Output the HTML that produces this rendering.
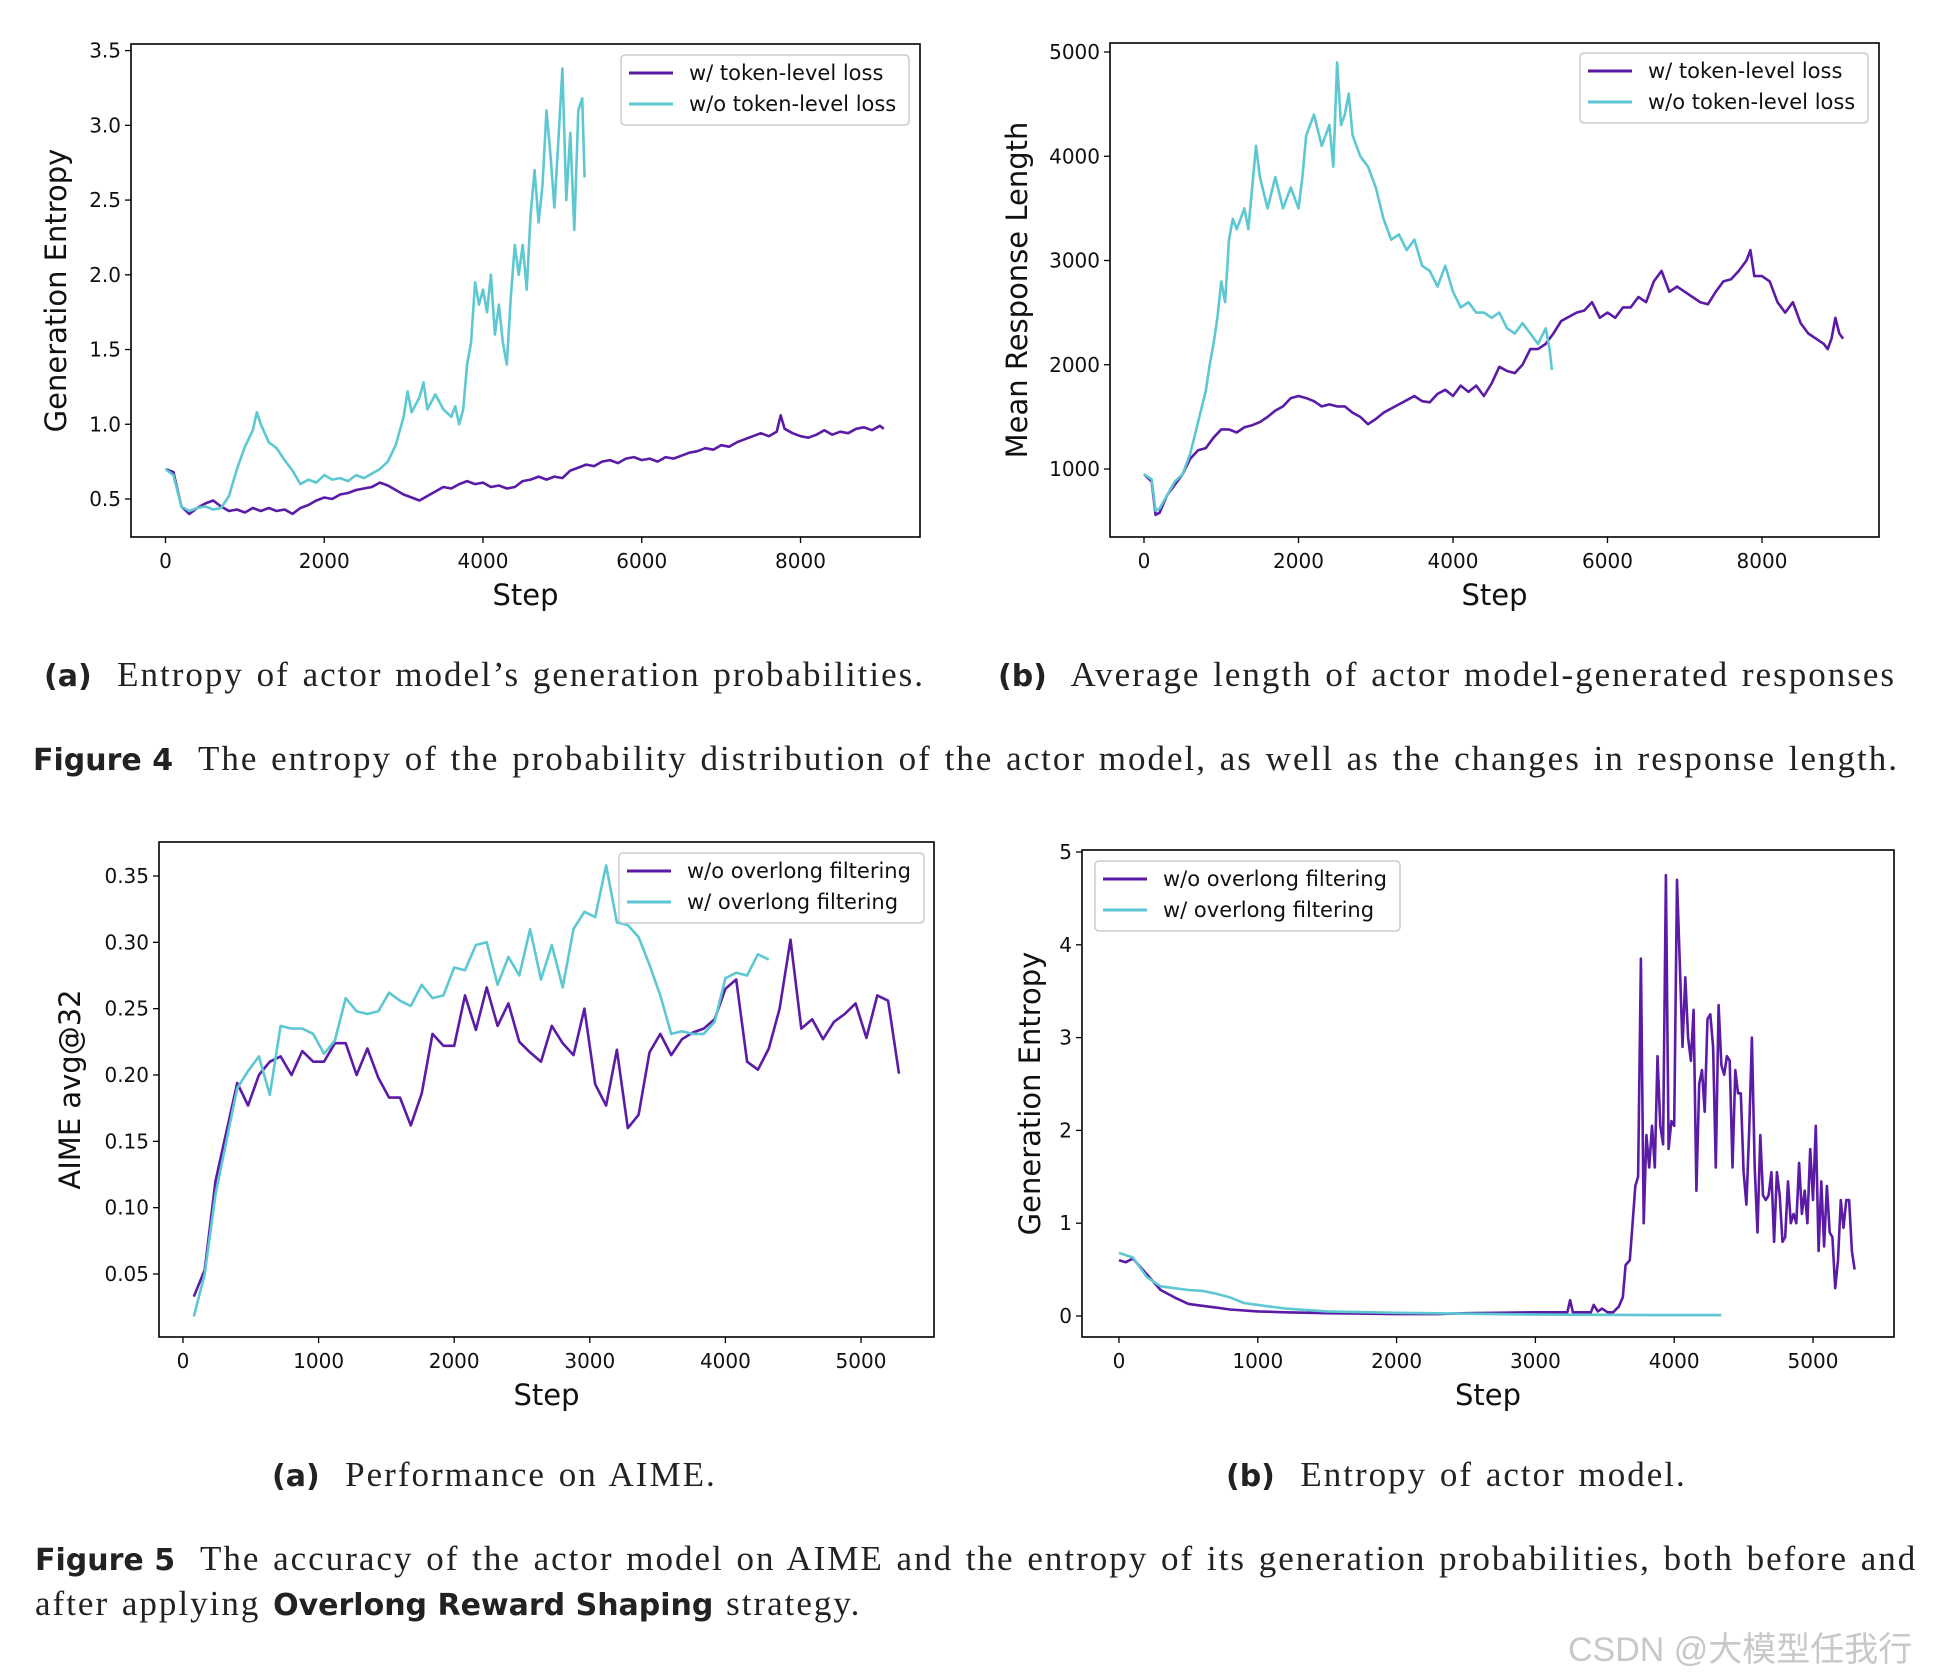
<!DOCTYPE html>
<html><head><meta charset="utf-8">
<style>
body{margin:0;background:#fff;width:1937px;height:1675px;overflow:hidden;position:relative;font-family:"DejaVu Sans","Liberation Sans",sans-serif}
.cap{position:absolute;font-family:"Liberation Serif",serif;font-size:35px;letter-spacing:2px;word-spacing:2px;color:#222;white-space:nowrap}
.cap b{font-family:"DejaVu Sans","Liberation Sans",sans-serif;font-weight:bold;font-size:30px;letter-spacing:0;word-spacing:0}
svg{position:absolute;left:0;top:0}
</style></head><body>
<svg id="chart" width="1937" height="1675"></svg>
<div class="cap" style="left:44px;top:655px"><b>(a)</b>&nbsp; Entropy of actor model’s generation probabilities.</div>
<div class="cap" style="left:998px;top:655px"><b>(b)</b>&nbsp; Average length of actor model-generated responses</div>
<div class="cap" style="left:33px;top:739px"><b>Figure 4</b>&nbsp; The entropy of the probability distribution of the actor model, as well as the changes in response length.</div>
<div class="cap" style="left:272px;top:1455px"><b>(a)</b>&nbsp; Performance on AIME.</div>
<div class="cap" style="left:1226px;top:1455px"><b>(b)</b>&nbsp; Entropy of actor model.</div>
<div class="cap" style="left:35px;top:1539px"><b>Figure 5</b>&nbsp; The accuracy of the actor model on AIME and the entropy of its generation probabilities, both before and</div>
<div class="cap" style="left:35px;top:1584px">after applying <b>Overlong Reward Shaping</b> strategy.</div>
<div style="position:absolute;left:1568px;top:1622px;font-size:34px;color:#c8c8c8;font-family:'Liberation Sans','Noto Sans CJK SC',sans-serif">CSDN @大模型任我行</div>
<script>
// Fig 4a
const a_stepsP=[0,100,200,300,400,500,600,700,800,900,1000,1100,1200,1300,1400,1500,1600,1700,1800,1900,2000,2100,2200,2300,2400,2500,2600,2700,2800,2900,3000,3100,3200,3300,3400,3500,3600,3700,3800,3900,4000,4100,4200,4300,4400,4500,4600,4700,4800,4900,5000,5100,5200,5300,5400,5500,5600,5700,5800,5900,6000,6100,6200,6300,6400,6500,6600,6700,6800,6900,7000,7100,7200,7300,7400,7500,7600,7700,7750,7800,7900,8000,8100,8200,8300,8400,8500,8600,8700,8800,8900,9000,9050];
const a_valsP=[0.70,0.68,0.45,0.40,0.44,0.47,0.49,0.45,0.42,0.43,0.41,0.44,0.42,0.44,0.42,0.43,0.40,0.44,0.46,0.49,0.51,0.50,0.53,0.54,0.56,0.57,0.58,0.61,0.59,0.56,0.53,0.51,0.49,0.52,0.55,0.58,0.57,0.60,0.62,0.60,0.61,0.58,0.59,0.57,0.58,0.62,0.63,0.65,0.63,0.65,0.64,0.69,0.71,0.73,0.72,0.75,0.76,0.74,0.77,0.78,0.76,0.77,0.75,0.78,0.77,0.79,0.81,0.82,0.84,0.83,0.86,0.85,0.88,0.90,0.92,0.94,0.92,0.95,1.06,0.97,0.94,0.92,0.91,0.93,0.96,0.93,0.95,0.94,0.97,0.98,0.96,0.99,0.97];
const a_stepsC=[0,100,200,300,400,500,600,700,800,900,1000,1100,1150,1200,1300,1400,1500,1600,1700,1800,1900,2000,2100,2200,2300,2400,2500,2600,2700,2800,2900,3000,3050,3100,3200,3250,3300,3400,3500,3600,3650,3700,3750,3800,3850,3900,3950,4000,4050,4100,4150,4200,4250,4300,4350,4400,4450,4500,4550,4600,4650,4700,4750,4800,4850,4900,4950,5000,5050,5100,5150,5200,5250,5280];
const a_valsC=[0.70,0.66,0.45,0.42,0.44,0.45,0.43,0.44,0.52,0.70,0.85,0.96,1.08,1.00,0.88,0.84,0.76,0.69,0.60,0.63,0.61,0.66,0.63,0.64,0.62,0.66,0.64,0.67,0.70,0.75,0.86,1.05,1.22,1.08,1.18,1.28,1.10,1.20,1.10,1.05,1.12,1.00,1.10,1.40,1.55,1.95,1.80,1.90,1.75,2.00,1.60,1.80,1.55,1.40,1.85,2.20,2.00,2.20,1.90,2.40,2.70,2.35,2.60,3.10,2.80,2.45,2.90,3.38,2.50,2.95,2.30,3.10,3.18,2.65];
// Fig 4b
const b_stepsP=[0,100,150,200,300,400,500,600,700,800,900,1000,1100,1200,1300,1400,1500,1600,1700,1800,1900,2000,2100,2200,2300,2400,2500,2600,2700,2800,2900,3000,3100,3200,3300,3400,3500,3600,3700,3800,3900,4000,4100,4200,4300,4400,4500,4600,4700,4800,4900,5000,5100,5200,5300,5400,5500,5600,5700,5800,5900,6000,6100,6200,6300,6400,6500,6600,6700,6800,6900,7000,7100,7200,7300,7400,7500,7600,7700,7800,7850,7900,8000,8100,8200,8300,8400,8500,8600,8700,8800,8850,8900,8950,9000,9050];
const b_valsP=[950,880,560,580,750,850,950,1100,1180,1200,1300,1380,1380,1350,1400,1420,1450,1500,1560,1600,1680,1700,1680,1650,1600,1620,1600,1600,1540,1500,1430,1480,1540,1580,1620,1660,1700,1650,1640,1720,1760,1700,1800,1740,1800,1700,1820,1980,1940,1920,2000,2150,2150,2200,2300,2420,2460,2500,2520,2600,2450,2500,2450,2550,2550,2650,2600,2800,2900,2700,2750,2700,2650,2600,2580,2700,2800,2820,2900,3000,3100,2850,2850,2800,2600,2500,2600,2400,2300,2250,2200,2150,2250,2450,2300,2250];
const b_stepsC=[0,100,150,200,300,400,500,600,700,800,850,900,950,1000,1050,1100,1150,1200,1300,1350,1400,1450,1500,1600,1700,1800,1900,2000,2050,2100,2200,2300,2400,2450,2500,2550,2600,2650,2700,2800,2900,3000,3100,3200,3300,3400,3500,3600,3700,3800,3900,4000,4100,4200,4300,4400,4500,4600,4700,4800,4900,5000,5100,5200,5250,5280];
const b_valsC=[950,900,600,620,750,880,950,1150,1450,1750,2000,2200,2450,2800,2600,3200,3400,3300,3500,3300,3700,4100,3800,3500,3800,3500,3700,3500,3800,4200,4400,4100,4300,3900,4900,4300,4400,4600,4200,4000,3900,3700,3400,3200,3250,3100,3200,2950,2900,2750,2950,2700,2550,2600,2500,2500,2450,2500,2350,2300,2400,2300,2200,2350,2150,1950];
// Fig 5a
const c_stepsP=[80,160,240,400,480,560,640,720,800,880,960,1040,1120,1200,1280,1360,1440,1520,1600,1680,1760,1840,1920,2000,2080,2160,2240,2320,2400,2480,2560,2640,2720,2800,2880,2960,3040,3120,3200,3280,3360,3440,3520,3600,3680,3760,3840,3920,4000,4080,4160,4240,4320,4400,4480,4560,4640,4720,4800,4880,4960,5040,5120,5200,5280];
const c_valsP=[0.033,0.053,0.12,0.194,0.177,0.200,0.210,0.214,0.200,0.218,0.210,0.210,0.224,0.224,0.200,0.220,0.198,0.183,0.183,0.162,0.186,0.231,0.222,0.222,0.260,0.234,0.266,0.237,0.254,0.225,0.217,0.210,0.237,0.224,0.215,0.250,0.193,0.177,0.219,0.160,0.170,0.217,0.231,0.215,0.227,0.232,0.235,0.242,0.265,0.272,0.210,0.204,0.220,0.250,0.302,0.235,0.242,0.227,0.240,0.246,0.254,0.228,0.260,0.256,0.201];
const c_stepsC=[80,160,240,320,400,480,560,640,720,800,880,960,1040,1120,1200,1280,1360,1440,1520,1600,1680,1760,1840,1920,2000,2080,2160,2240,2320,2400,2480,2560,2640,2720,2800,2880,2960,3040,3120,3200,3280,3360,3440,3520,3600,3680,3760,3840,3920,4000,4080,4160,4240,4320];
const c_valsC=[0.018,0.050,0.110,0.150,0.190,0.203,0.214,0.185,0.237,0.235,0.235,0.231,0.216,0.226,0.258,0.248,0.246,0.248,0.262,0.256,0.252,0.268,0.258,0.260,0.281,0.279,0.298,0.300,0.268,0.289,0.275,0.310,0.272,0.298,0.266,0.310,0.323,0.319,0.358,0.315,0.313,0.304,0.283,0.260,0.231,0.233,0.231,0.231,0.240,0.273,0.277,0.275,0.291,0.287];
// Fig 5b
const d_stepsP=[0,50,100,200,300,400,500,600,700,800,1000,1200,1500,2000,2300,2500,3000,3230,3250,3270,3400,3420,3450,3480,3520,3560,3600,3630,3650,3680,3700,3720,3740,3760,3780,3800,3820,3840,3860,3880,3900,3920,3940,3960,3980,4000,4020,4040,4060,4080,4100,4120,4140,4160,4180,4200,4220,4240,4260,4280,4300,4320,4340,4360,4380,4400,4420,4440,4460,4480,4500,4520,4540,4560,4580,4600,4620,4640,4660,4680,4700,4720,4740,4760,4780,4800,4820,4840,4860,4880,4900,4920,4940,4960,4980,5000,5020,5040,5060,5080,5100,5120,5140,5160,5180,5200,5220,5240,5260,5280,5300];
const d_valsP=[0.60,0.58,0.62,0.45,0.28,0.20,0.13,0.11,0.09,0.07,0.05,0.04,0.03,0.02,0.02,0.03,0.04,0.04,0.17,0.04,0.04,0.12,0.05,0.08,0.04,0.04,0.10,0.20,0.55,0.60,1.00,1.40,1.50,3.85,1.00,1.95,1.60,2.05,1.60,2.80,2.05,1.85,4.75,1.80,2.10,2.05,4.70,3.80,2.90,3.65,3.00,2.75,3.30,1.35,2.50,2.65,2.20,3.20,3.25,2.90,1.60,3.35,2.70,2.60,2.80,2.75,1.60,2.65,2.40,2.40,1.55,1.20,2.00,3.00,1.60,0.90,1.95,1.30,1.25,1.30,1.55,0.80,1.55,1.30,0.80,0.85,1.45,1.00,1.10,1.00,1.65,1.10,1.35,1.00,1.80,1.25,2.05,0.70,1.45,0.75,1.40,0.90,0.85,0.30,0.60,1.25,0.95,1.25,1.25,0.70,0.50];
const d_stepsC=[0,100,200,300,400,500,600,700,800,900,1000,1200,1500,2000,2500,3000,4000,4340];
const d_valsC=[0.68,0.63,0.42,0.32,0.30,0.28,0.27,0.24,0.20,0.14,0.12,0.08,0.05,0.035,0.025,0.015,0.01,0.01];

const xt4=[0,2000,4000,6000,8000], yt4a=[0.5,1.0,1.5,2.0,2.5,3.0,3.5], yt4b=[1000,2000,3000,4000,5000];
const xt5=[0,1000,2000,3000,4000,5000], yt5a=[0.05,0.10,0.15,0.20,0.25,0.30,0.35], yt5b=[0,1,2,3,4,5];

const NS='http://www.w3.org/2000/svg', svg=document.getElementById('chart');
const PUR='#5b1ba6', CYA='#5ec8d2';
function mk(t,a,p){const e=document.createElementNS(NS,t);for(const k in a)e.setAttribute(k,a[k]);(p||svg).appendChild(e);return e;}
function chart(o){
  const g=mk('g',{});
  
  
  const sx=v=>o.x0+(v-o.xa)*(o.x1-o.x0)/(o.xb-o.xa);
  const sy=v=>o.y0+(v-o.ya)*(o.y1-o.y0)/(o.yb-o.ya);
  o.xt.forEach(t=>{const X=sx(t);mk('line',{x1:X,x2:X,y1:o.box[3],y2:o.box[3]+6,stroke:'#000','stroke-width':1.3},g);
    const tx=mk('text',{x:X,y:o.box[3]+31,'font-size':20,'text-anchor':'middle',fill:'#111'},g);tx.textContent=t;
    
    });
  o.yt.forEach(t=>{const Y=sy(t);mk('line',{x1:o.box[0]-6,x2:o.box[0],y1:Y,y2:Y,stroke:'#000','stroke-width':1.3},g);
    const tx=mk('text',{x:o.box[0]-10,y:Y+7,'font-size':20,'text-anchor':'end',fill:'#111'},g);tx.textContent=o.fmt(t);
    
    });
  o.series.forEach(s=>{const pts=s.x.map((v,i)=>sx(v).toFixed(1)+','+sy(s.y[i]).toFixed(1)).join(' ');
    const pl=mk('polyline',{points:pts,fill:'none',stroke:s.c,'stroke-width':2.6,'stroke-linejoin':'round'},g);
    
    });
  mk('rect',{x:o.box[0],y:o.box[1],width:o.box[2]-o.box[0],height:o.box[3]-o.box[1],fill:'none',stroke:'#000','stroke-width':1.6},g);
  const xl=mk('text',{x:(o.box[0]+o.box[2])/2,y:o.box[3]+68,'font-size':29,'text-anchor':'middle',fill:'#111'},g);xl.textContent='Step';
  
  
  const yl=mk('text',{x:0,y:0,'font-size':29,'text-anchor':'middle',fill:'#111',transform:`translate(${o.ylx},${(o.box[1]+o.box[3])/2}) rotate(-90)`},g);yl.textContent=o.ylab;
  
  
  const L=o.leg, lg=mk('g',{},g);
  
  
  mk('rect',{x:L[0],y:L[1],width:L[2],height:70,rx:4,fill:'#fff',stroke:'#ccc','stroke-width':1.5},lg);
  o.series.forEach((s,i)=>{const yy=L[1]+18+i*31;mk('line',{x1:L[0]+8,x2:L[0]+52,y1:yy,y2:yy,stroke:s.c,'stroke-width':3},lg);
    const t=mk('text',{x:L[0]+68,y:yy+7,'font-size':21,fill:'#111'},lg);t.textContent=s.lab;
    
    });
}
chart({name:'chart-4a-entropy',box:[131,44,920,537],x0:165.5,x1:800.5,xa:0,xb:8000,y0:499,y1:50.6,ya:0.5,yb:3.5,xt:xt4,yt:yt4a,fmt:v=>v.toFixed(1),ylab:'Generation Entropy',ylx:66,leg:[621,55,288],
 series:[{x:a_stepsP,y:a_valsP,c:PUR,lab:'w/ token-level loss',n:'line-with-token-loss'},{x:a_stepsC,y:a_valsC,c:CYA,lab:'w/o token-level loss',n:'line-without-token-loss'}]});
chart({name:'chart-4b-length',box:[1110,43,1879,537],x0:1144,x1:1762,xa:0,xb:8000,y0:469,y1:52,ya:1000,yb:5000,xt:xt4,yt:yt4b,fmt:v=>v,ylab:'Mean Response Length',ylx:1027,leg:[1580,53,288],
 series:[{x:b_stepsP,y:b_valsP,c:PUR,lab:'w/ token-level loss',n:'line-with-token-loss'},{x:b_stepsC,y:b_valsC,c:CYA,lab:'w/o token-level loss',n:'line-without-token-loss'}]});
chart({name:'chart-5a-aime',box:[159,842,934,1337],x0:183,x1:861,xa:0,xb:5000,y0:1274,y1:876,ya:0.05,yb:0.35,xt:xt5,yt:yt5a,fmt:v=>v.toFixed(2),ylab:'AIME avg@32',ylx:80,leg:[619,853,305],
 series:[{x:c_stepsP,y:c_valsP,c:PUR,lab:'w/o overlong filtering',n:'line-without-filtering'},{x:c_stepsC,y:c_valsC,c:CYA,lab:'w/ overlong filtering',n:'line-with-filtering'}]});
chart({name:'chart-5b-entropy',box:[1082,850,1894,1337],x0:1119,x1:1813,xa:0,xb:5000,y0:1316,y1:852,ya:0,yb:5,xt:xt5,yt:yt5b,fmt:v=>v,ylab:'Generation Entropy',ylx:1040,leg:[1095,861,305],
 series:[{x:d_stepsP,y:d_valsP,c:PUR,lab:'w/o overlong filtering',n:'line-without-filtering'},{x:d_stepsC,y:d_valsC,c:CYA,lab:'w/ overlong filtering',n:'line-with-filtering'}]});
</script>
</body></html>
